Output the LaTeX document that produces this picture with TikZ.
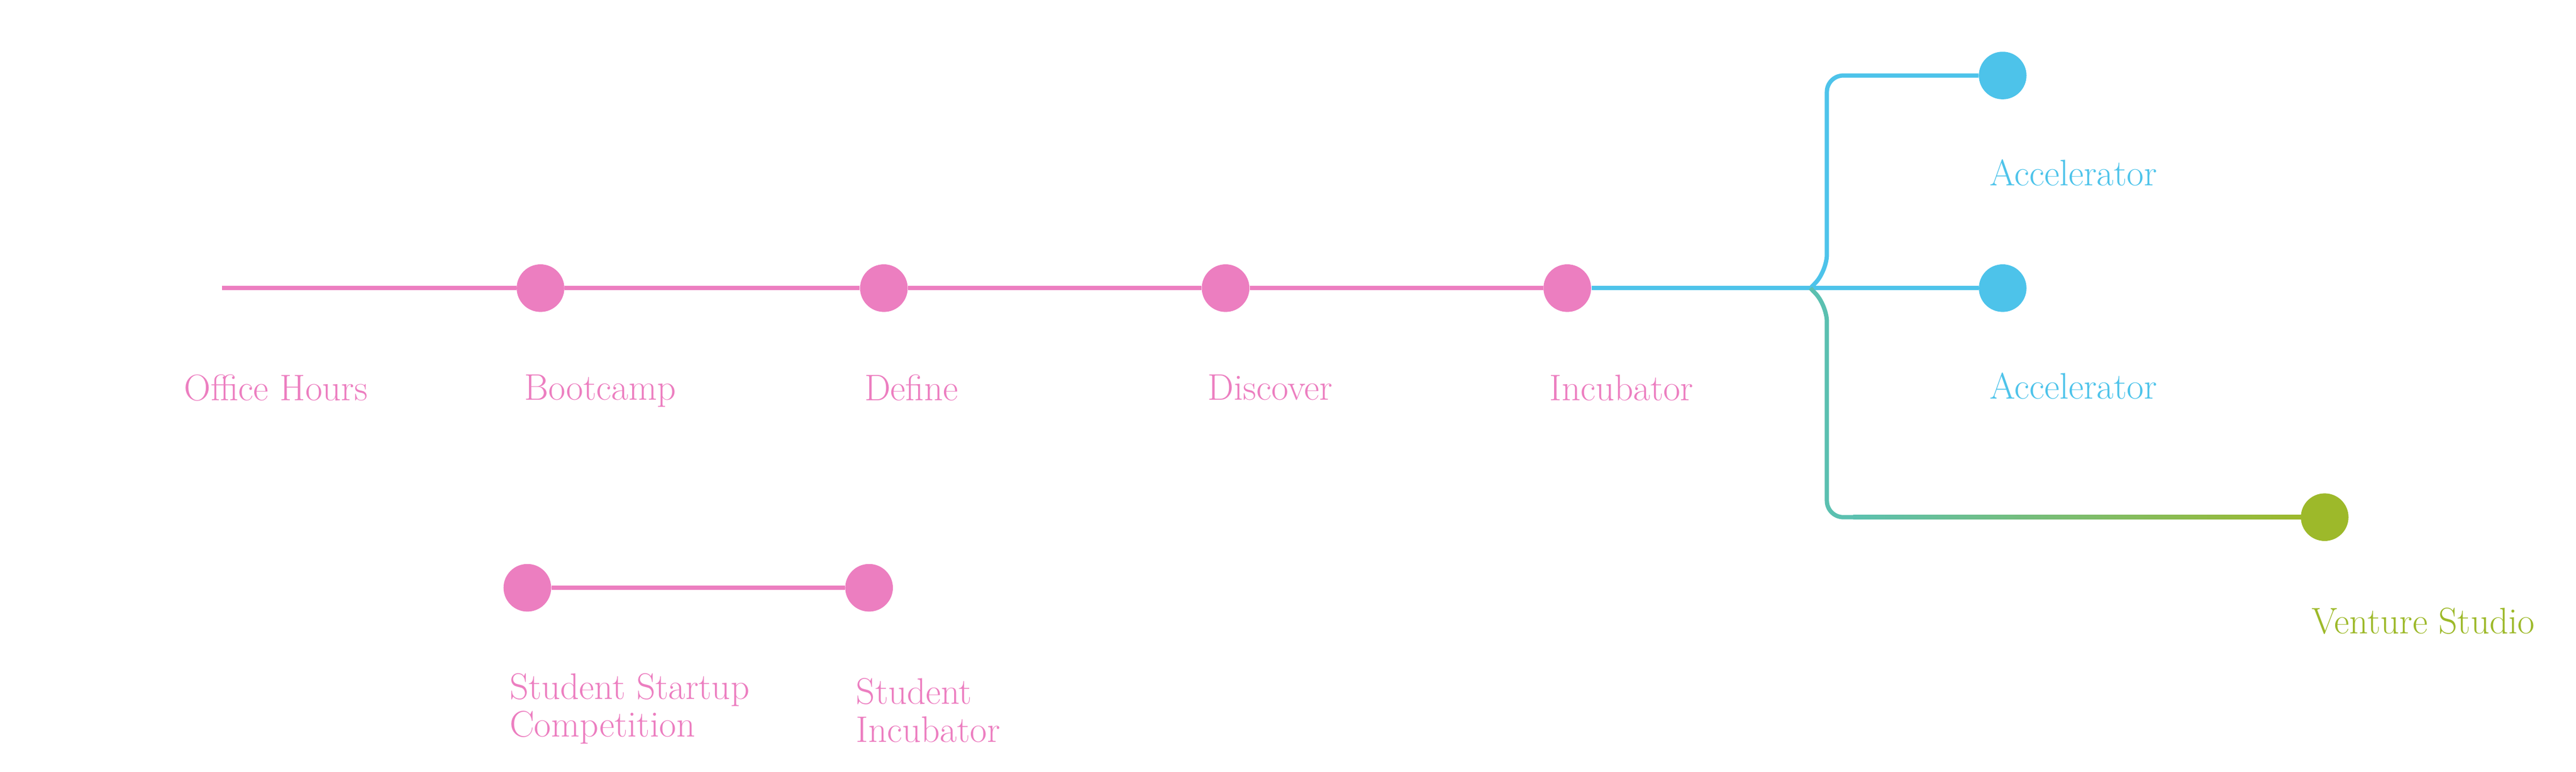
\documentclass[tikz,border=0pt]{standalone}
\begin{document}
\begin{tikzpicture}[x=1pt,y=-1pt,
  dot/.style={circle,inner sep=0pt,minimum size=29pt},
  pk/.style={dot,fill=pinkc},
  bl/.style={dot,fill=bluec},
  gr/.style={dot,fill=greenc},
  lab/.style={anchor=north west,inner sep=0pt,font=\fontsize{22.5}{23}\selectfont,align=left},
  ln/.style={line width=2.6pt}]
\definecolor{pinkc}{HTML}{EC7EC0}
\definecolor{bluec}{HTML}{4DC3EA}
\definecolor{greenc}{HTML}{9DB92A}
\definecolor{tealc}{HTML}{5BC0B0}
\useasboundingbox (0,0) rectangle (1568,470);
\coordinate (s) at (135,175.5);
\node[pk] (b) at (329,175.5) {};
\node[pk] (d) at (538,175.5) {};
\node[pk] (di) at (746,175.5) {};
\node[pk] (i) at (954,175.5) {};
\node[bl] (a1) at (1219,46) {};
\node[bl] (a2) at (1219,175.5) {};
\node[gr] (v) at (1415,315) {};
\node[pk] (sc) at (321,358) {};
\node[pk] (si) at (529,358) {};
\draw[ln,pinkc] (s) -- (b) -- (d) -- (di) -- (i);
\draw[ln,pinkc] (sc) -- (si);
\draw[ln,bluec] (i) -- (a2);
\draw[ln,bluec,rounded corners=10pt] (1102,175.5) -- (1112,165) -- (1112,46) -- (a1);
\draw[ln,tealc,rounded corners=10pt] (1102,175.5) -- (1112,186) -- (1112,315) -- (1130,315);
\shade[left color=tealc,right color=greenc] (1128,313.7) rectangle (1402,316.3);
\begin{scope}[pinkc]
\node[lab] at (112,228) {Office Hours};
\node[lab] at (319,228) {Bootcamp};
\node[lab] at (526,228) {Define};
\node[lab] at (735,228) {Discover};
\node[lab] at (943,228) {Incubator};
\node[lab] at (310,410) {Student Startup\\Competition};
\node[lab] at (521,413) {Student\\Incubator};
\end{scope}
\node[lab,bluec] at (1211,97) {Accelerator};
\node[lab,bluec] at (1211,227) {Accelerator};
\node[lab,greenc] at (1407,370) {Venture Studio};
\end{tikzpicture}
\end{document}
